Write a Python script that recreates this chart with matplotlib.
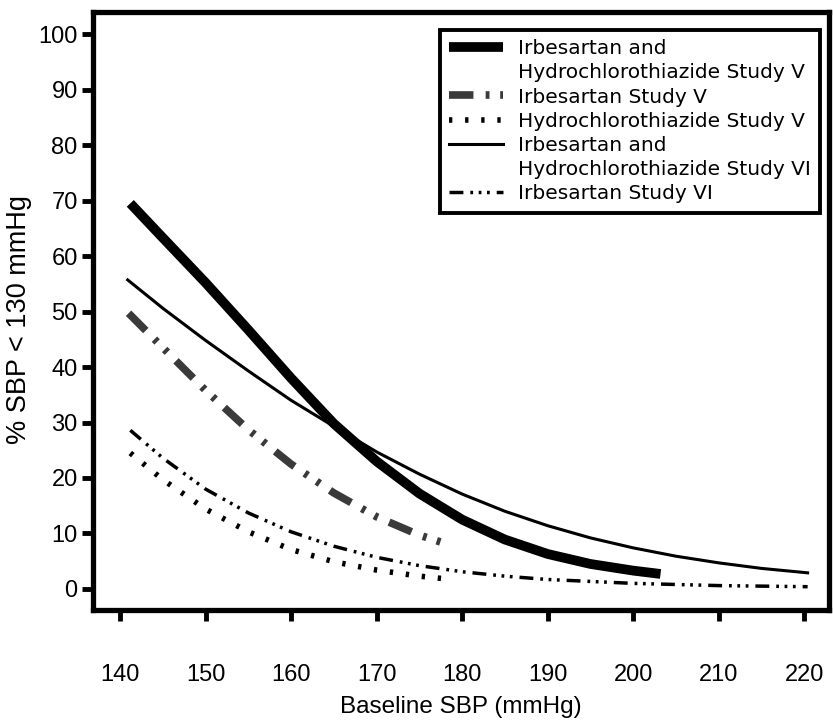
import matplotlib
matplotlib.use("Agg")
import matplotlib.pyplot as plt
from matplotlib.lines import Line2D

plt.rcParams['font.family'] = ['Liberation Sans', 'DejaVu Sans']

# Data
x_irb_hctz_v = [141.2, 145, 150, 155, 160, 165, 170, 175, 180, 185, 190, 195, 200, 203.2]
y_irb_hctz_v = [69.5, 63.3, 55.2, 46.7, 38.0, 29.8, 23.0, 17.2, 12.5, 8.9, 6.3, 4.5, 3.3, 2.7]

x_irb_v = [141, 145, 150, 155, 160, 165, 170, 175, 177.8]
y_irb_v = [49.7, 43.5, 35.8, 28.7, 22.5, 17.3, 13.0, 9.7, 8.3]

x_hctz_v = [141.2, 145, 150, 155, 160, 165, 170, 175, 178.8]
y_hctz_v = [24.5, 19.7, 14.4, 10.3, 7.1, 4.9, 3.4, 2.3, 1.7]

x_irb_hctz_vi = [140.9, 145, 150, 155, 160, 165, 170, 175, 180, 185, 190, 195, 200, 205, 210, 215, 220.4]
y_irb_hctz_vi = [55.7, 50.6, 44.8, 39.3, 34.0, 29.3, 24.7, 20.7, 17.1, 14.0, 11.4, 9.2, 7.4, 5.9, 4.7, 3.7, 2.9]

x_irb_vi = [141.2, 145, 150, 155, 160, 165, 170, 175, 180, 185, 190, 200, 210, 220.4]
y_irb_vi = [28.6, 23.6, 18.0, 13.7, 10.3, 7.7, 5.7, 4.2, 3.1, 2.3, 1.7, 1.0, 0.6, 0.4]

labels = ["Irbesartan and\nHydrochlorothiazide Study V",
          "Irbesartan Study V",
          "Hydrochlorothiazide Study V",
          "Irbesartan and\nHydrochlorothiazide Study VI",
          "Irbesartan Study VI"]

xticks = [140, 150, 160, 170, 180, 190, 200, 210, 220]
yticks = [0, 10, 20, 30, 40, 50, 60, 70, 80, 90, 100]

W, H = 833, 723
fig = plt.figure(figsize=(W / 100, H / 100), dpi=100)
L, R, T, B = 93, 829, 12, 610
ax = fig.add_axes([L / W, 1 - B / H, (R - L) / W, (B - T) / H])

styles = [
    dict(color='black', lw=7, solid_capstyle='butt'),
    dict(color='#3a3a3a', lw=5.5, dashes=(3.2, 1.6, 0.5, 1.4, 0.5, 1.6)),
    dict(color='black', lw=4, dashes=(0.6, 2.3)),
    dict(color='black', lw=2.2),
    dict(color='black', lw=2.5, dashes=(4, 2, 0.8, 1.6, 0.8, 1.6, 0.8, 2)),
]
series = [(x_irb_hctz_v, y_irb_hctz_v), (x_irb_v, y_irb_v), (x_hctz_v, y_hctz_v),
          (x_irb_hctz_vi, y_irb_hctz_vi), (x_irb_vi, y_irb_vi)]
for (xs, ys), st in zip(series, styles):
    ax.plot(xs, ys, **st)

ax.set_xlim(136.84, 222.9)
ax.set_ylim(-3.8, 104.0)
ax.set_xticks(xticks)
ax.set_yticks(yticks)
for s in ax.spines.values():
    s.set_linewidth(3.8)
ax.tick_params(axis='both', width=3.5, length=8, labelsize=17)
ax.tick_params(axis='x', pad=31)
ax.tick_params(axis='y', pad=3)
ax.set_xlabel('Baseline SBP (mmHg)', fontsize=17.5, labelpad=7)
ax.set_ylabel('% SBP < 130 mmHg', fontsize=19.5)
ax.yaxis.set_label_coords((32 - L) / (R - L), (B - 320) / (B - T))

# Legend: handle aligned with first text line of each entry
handles, texts = [], []
blank = Line2D([], [], color='none')
for lab, st in zip(labels, styles):
    lines = lab.split('\n')
    handles.append(Line2D([], [], **st))
    texts.append(lines[0])
    for extra in lines[1:]:
        handles.append(blank)
        texts.append(extra)

leg = ax.legend(handles, texts, loc='upper right',
                bbox_to_anchor=((820 - L) / (R - L), (B - 30) / (B - T)),
                borderaxespad=0, fancybox=False, framealpha=1,
                edgecolor='black', handlelength=2.7, handletextpad=0.75, borderpad=0.45,
                labelspacing=0.26, prop={'family': 'DejaVu Sans', 'size': 14.5})
leg.get_frame().set_linewidth(2.8)

fig.savefig('out.png', dpi=100)
